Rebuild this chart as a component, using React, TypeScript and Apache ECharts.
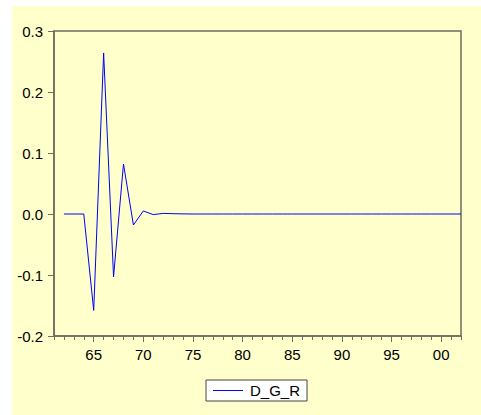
import React, { useEffect, useRef } from "react";
import * as echarts from "echarts";

const years: string[] = [];
for (let y = 1961; y <= 2002; y++) years.push(String(y));

// D_G_R values for 1962..2002 (1961 is the empty axis start)
const dgr: (number | null)[] = [
  null,
  0, 0, 0, -0.158, 0.264, -0.103, 0.082, -0.018, 0.005, -0.001,
  0.001, 0.0005, 0.0002, 0, 0, 0, 0, 0, 0, 0,
  0, 0, 0, 0, 0, 0, 0, 0, 0, 0,
  0, 0, 0, 0, 0, 0, 0, 0, 0, 0,
  0,
];

const yTicks = { min: -0.2, max: 0.3, interval: 0.1 };
const seriesName = "D_G_R";

const FONT = "Arial, 'Liberation Sans', sans-serif";
const FRAME = "#6e6e60";

export default function App() {
  const ref = useRef<HTMLDivElement>(null);
  useEffect(() => {
    document.body.style.margin = "0";
    const chart = echarts.init(ref.current!, null, { renderer: "svg" });
    chart.setOption({
      animation: false,
      backgroundColor: "#ffffff",
      graphic: [
        {
          type: "rect",
          shape: { x: 12, y: 6, width: 469, height: 409 },
          style: { fill: "#FFFFCC" },
          z: -10,
          silent: true,
        },
      ],
      grid: {
        left: 54,
        top: 31,
        width: 407,
        height: 305,
        show: true,
        borderColor: FRAME,
        borderWidth: 1.5,
        backgroundColor: "transparent",
      },
      legend: {
        left: 206,
        top: 380,
        padding: [3, 7, 3, 7],
        itemWidth: 30,
        itemHeight: 1,
        itemGap: 0,
        backgroundColor: "#ffffff",
        borderColor: "#444444",
        borderWidth: 1,
        borderRadius: 0,
        textStyle: { fontFamily: FONT, fontSize: 15, color: "#000", padding: [0, 0, 0, 2] },
        data: [{ name: seriesName, icon: "rect" }],
      },
      xAxis: [
        {
          type: "category",
          data: years,
          boundaryGap: false,
          position: "bottom",
          axisLine: { show: true, onZero: false, lineStyle: { color: FRAME, width: 1.5 } },
          axisTick: { show: true, interval: 0, length: 4, lineStyle: { color: FRAME } },
          axisLabel: { show: false },
          splitLine: { show: false },
        },
        {
          type: "category",
          data: years,
          boundaryGap: false,
          position: "bottom",
          axisLine: { show: false, onZero: false },
          axisTick: {
            show: true,
            length: 6,
            interval: (i: number, v: string) => Number(v) % 5 === 0,
            lineStyle: { color: FRAME },
          },
          axisLabel: {
            show: true,
            margin: 11,
            interval: (i: number, v: string) => Number(v) % 5 === 0,
            formatter: (v: string) => String(Number(v) % 100).padStart(2, "0"),
            fontFamily: FONT,
            fontSize: 15,
            color: "#000",
          },
          splitLine: { show: false },
        },
      ],
      yAxis: {
        type: "value",
        min: yTicks.min,
        max: yTicks.max,
        interval: yTicks.interval,
        axisLine: { show: true, lineStyle: { color: FRAME, width: 1.5 } },
        axisTick: { show: true, length: 6, lineStyle: { color: FRAME } },
        axisLabel: {
          margin: 11,
          formatter: (v: number) => v.toFixed(1),
          fontFamily: FONT,
          fontSize: 15,
          color: "#000",
        },
        splitLine: { show: false },
      },
      series: [
        {
          name: seriesName,
          type: "line",
          data: dgr,
          xAxisIndex: 0,
          symbol: "none",
          lineStyle: { color: "#0000FF", width: 1 },
          itemStyle: { color: "#0000FF" },
          connectNulls: false,
        },
      ],
    });
    return () => chart.dispose();
  }, []);
  return <div ref={ref} style={{ width: 481, height: 415 }} />;
}
